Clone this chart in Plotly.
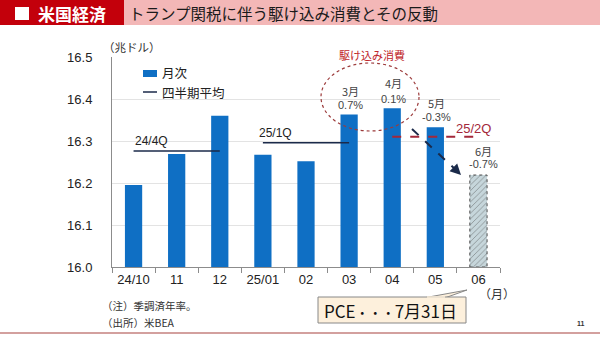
import plotly.graph_objects as go

# ---------------- data ----------------
months = ["24/10", "11", "12", "25/01", "02", "03", "04", "05", "06"]
pce = [16.195, 16.269, 16.360, 16.267, 16.252, 16.363, 16.378, 16.333, 16.219]
q_labels = ["24/4Q", "25/1Q", "25/2Q"]
q_start = ["24/10", "25/01", "04"]
q_end = ["12", "03", "06"]
q_avg = [16.276, 16.296, 16.310]
mom_months = ["3月", "4月", "5月", "6月"]
mom_pct = ["0.7%", "0.1%", "-0.3%", "-0.7%"]
yticks = [16.0, 16.1, 16.2, 16.3, 16.4, 16.5]

# ---------------- layout geometry ----------------
W, H = 600, 338
L, R, T, B = 112, 500, 57, 267
JP = "Noto Sans CJK JP"
NUM = "Liberation Sans, Noto Sans CJK JP"


def X(px):
    return (px - L) / (R - L)


def Y(py):
    return (B - py) / (B - T)


BLUE = "#0f6fc4"
DARKRED = "#a3283a"
NAVY = "#1b2a4a"

fig = go.Figure()

colors = [BLUE] * (len(months) - 1) + ["#c6d6db"]
patterns = [""] * (len(months) - 1) + ["/"]
fig.add_trace(go.Bar(
    x=months, y=pce,
    marker=dict(color=colors, line=dict(width=0),
                pattern=dict(shape=patterns, fgcolor="#a8bcc2",
                             size=4, solidity=0.2, fillmode="overlay")),
    showlegend=False, hoverinfo="skip",
))

for lab, s, e, v in zip(q_labels, q_start, q_end, q_avg):
    is_last = lab == q_labels[-1]
    fig.add_trace(go.Scatter(
        x=[s, e], y=[v, v], mode="lines",
        line=dict(color=DARKRED if is_last else NAVY, width=2 if is_last else 1.5,
                  dash="dash" if is_last else "solid"),
        showlegend=False, hoverinfo="skip",
    ))

bargap = 0.6
shapes = []
annotations = []


def txt(text, px, py, size, color="#333", family=JP, xanchor="center"):
    annotations.append(dict(text=text, xref="paper", yref="paper", x=X(px), y=Y(py),
                            xanchor=xanchor, yanchor="middle", showarrow=False,
                            font=dict(family=family, size=size, color=color)))


# dashed border of estimated June bar
n = len(months) - 1
shapes.append(dict(type="rect", xref="x", yref="y",
                   x0=n - (1 - bargap) / 2, x1=n + (1 - bargap) / 2,
                   y0=yticks[0], y1=pce[-1],
                   line=dict(color="#4d4d4d", width=1, dash="dot"), fillcolor="rgba(0,0,0,0)"))

# header
shapes.append(dict(type="rect", xref="paper", yref="paper", x0=X(0), x1=X(124), y0=Y(0), y1=Y(25),
                   fillcolor="#c3000b", line=dict(width=0), layer="below"))
shapes.append(dict(type="rect", xref="paper", yref="paper", x0=X(124), x1=X(600), y0=Y(0), y1=Y(25),
                   fillcolor="#f3b7b7", line=dict(width=0), layer="below"))
shapes.append(dict(type="rect", xref="paper", yref="paper", x0=X(15), x1=X(29), y0=Y(7), y1=Y(20),
                   fillcolor="white", line=dict(width=0)))
txt("<b>米国経済</b>", 36, 13, 17, "white", xanchor="left")
txt("トランプ関税に伴う駆け込み消費とその反動", 127, 13, 15.5, "#1a1a1a", xanchor="left")

# bottom red line and page number
shapes.append(dict(type="line", xref="paper", yref="paper", x0=X(0), x1=X(600), y0=Y(333), y1=Y(333),
                   line=dict(color="#a8423f", width=1.2)))
txt("<b>11</b>", 581, 323, 7, "#333", family=NUM)

# unit label
txt("（兆ドル）", 101, 47, 11.5, "#333", xanchor="left")

# legend (manual)
shapes.append(dict(type="rect", xref="paper", yref="paper", x0=X(143), x1=X(157), y0=Y(70), y1=Y(77),
                   fillcolor=BLUE, line=dict(width=0)))
txt("月次", 160, 73, 12.5, "#222", xanchor="left")
shapes.append(dict(type="line", xref="paper", yref="paper", x0=X(143), x1=X(157), y0=Y(92), y1=Y(92),
                   line=dict(color=NAVY, width=1.5)))
txt("四半期平均", 160, 92, 12.5, "#222", xanchor="left")

# quarter labels
q_pos = [(151, 141, "#222", 12), (275, 133, "#222", 12), (473, 128, DARKRED, 13)]
for lab, (px, py, c, fs) in zip(q_labels, q_pos):
    txt(lab, px, py, fs, c, family=NUM)

# month-on-month labels
mom_pos = [(350, 91, 105), (393, 83, 99), (436, 103, 117), (483, 151, 164)]
for m, p, (px, py1, py2) in zip(mom_months, mom_pct, mom_pos):
    txt(m, px, py1, 11, "#444")
    txt(p, px, py2, 11, "#444", family=NUM)

# rush-buying ellipse
shapes.append(dict(type="circle", xref="paper", yref="paper", x0=X(321), x1=X(419), y0=Y(63), y1=Y(131),
                   line=dict(color="#9c3b3b", width=1.2, dash="dot")))
txt("駆け込み消費", 372, 55, 11, "#c0252b")

# dashed arrow
shapes.append(dict(type="line", xref="paper", yref="paper", x0=X(412), x1=X(457), y0=Y(129), y1=Y(171),
                   line=dict(color=NAVY, width=2, dash="dash")))
annotations.append(dict(text="", xref="paper", yref="paper", x=X(461), y=Y(175),
                        axref="pixel", ayref="pixel", ax=-9, ay=-9, showarrow=True,
                        arrowhead=2, arrowsize=1.2, arrowwidth=1.8, arrowcolor=NAVY))

# month unit
txt("（月）", 497, 293, 12, "#333")

# footnotes
txt("（注）季調済年率。", 100, 305, 10.5, "#333", xanchor="left")
txt("（出所）米BEA", 100, 322, 10.5, "#333", xanchor="left")

# PCE callout
shapes.append(dict(type="path", xref="paper", yref="paper",
                   path=f"M {X(426)} {Y(297.5)} L {X(467)} {Y(290)} L {X(446)} {Y(297.5)} Z",
                   fillcolor="#fdf0dc", line=dict(color="#888", width=1)))
shapes.append(dict(type="rect", xref="paper", yref="paper", x0=X(318), x1=X(466), y0=Y(297), y1=Y(323),
                   fillcolor="#fdf0dc", line=dict(color="#888", width=1)))
shapes.append(dict(type="line", xref="paper", yref="paper", x0=X(427), x1=X(445), y0=Y(297), y1=Y(297),
                   line=dict(color="#fdf0dc", width=1.5)))
txt("PCE<span style='font-size:13px'>・・・</span>7月31日", 322, 310, 17, "#111", xanchor="left")

fig.update_layout(
    width=W, height=H,
    margin=dict(l=L, r=W - R, t=T, b=H - B, pad=0),
    paper_bgcolor="white", plot_bgcolor="white",
    bargap=bargap,
    shapes=shapes, annotations=annotations,
    showlegend=False,
    xaxis=dict(type="category", categoryorder="array", categoryarray=months,
               range=[-0.5, len(months) - 0.5],
               showline=True, linecolor="#8c8c8c", linewidth=1,
               ticks="outside", tickson="boundaries", ticklen=5, tickcolor="#8c8c8c",
               tickfont=dict(family=NUM, size=13, color="#222"), showgrid=False),
    yaxis=dict(range=[yticks[0], yticks[-1]], tickvals=yticks, ticktext=[f"{v:.1f}" for v in yticks],
               showline=True, linecolor="#8c8c8c", linewidth=1, ticks="",
               ticklabelstandoff=16,
               gridcolor="#e3e3e3", gridwidth=1, zeroline=False,
               tickfont=dict(family=NUM, size=13, color="#222")),
)

fig.write_html("out.html")
